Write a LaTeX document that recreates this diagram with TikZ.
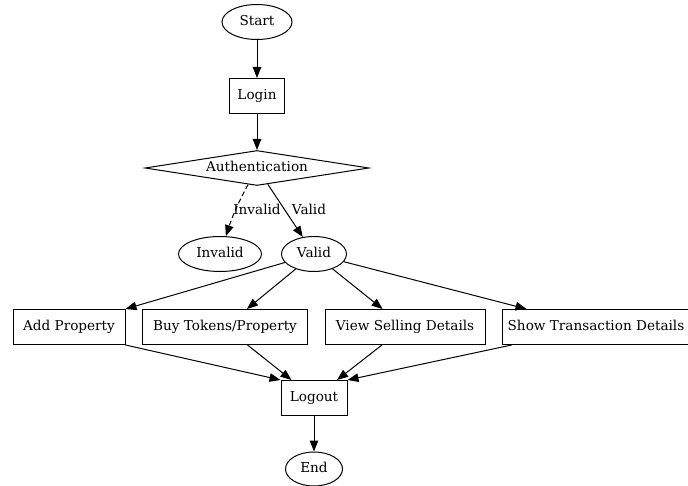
\documentclass[tikz,border=0pt]{standalone}
\usepackage{fontspec}
\setmainfont{DejaVu Serif}
\usetikzlibrary{shapes.geometric,arrows.meta}
\begin{document}
\begin{tikzpicture}[x=1pt,y=-1pt,
  every node/.style={font=\fontsize{13.6}{16}\selectfont, line width=1pt, inner sep=0pt, text height=10pt, text depth=3pt},
  oval/.style={draw, ellipse, minimum height=35pt},
  box/.style={draw, rectangle, minimum height=35pt},
  dia/.style={draw, diamond, shape aspect=6.4, minimum width=224pt, minimum height=35pt},
  arr/.style={line width=1pt, -{Triangle[length=11pt,width=8.5pt]}},
  lbl/.style={draw=none, fill=none}
]
\useasboundingbox (0,0) rectangle (688,486);
\node[oval, minimum width=70pt] (start) at (257,22) {Start};
\node[box, minimum width=55pt] (login) at (257,96) {Login};
\node[dia] (auth) at (257,168) {Authentication};
\node[oval, minimum width=83pt] (invalid) at (220,254) {Invalid};
\node[oval, minimum width=65pt] (valid) at (314,254) {Valid};
\node[box, minimum width=112pt] (add) at (69,327) {Add Property};
\node[box, minimum width=165pt] (buy) at (225,327) {Buy Tokens/Property};
\node[box, minimum width=160pt] (view) at (405,327) {View Selling Details};
\node[box, minimum width=188pt] (show) at (596,327) {Show Transaction Details};
\node[box, minimum width=66pt] (logout) at (314,398) {Logout};
\node[oval, minimum width=57pt, minimum height=34pt] (end) at (314,469) {End};

\draw[arr] (start) -- (login);
\draw[arr] (login) -- (auth);
\draw[arr, dash pattern=on 5pt off 3pt] (auth) to[bend right=5] (invalid);
\draw[arr] (auth) -- (valid);
\node[lbl] (linv) at (257,211) {Invalid};
\node[lbl] (lval) at (309,211) {Valid};
\draw[arr] (valid) -- (add.north east);
\draw[arr] (valid) -- (buy);
\draw[arr] (valid) -- (view);
\draw[arr] (valid) -- (show);
\draw[arr] (add.south east) -- (logout.north west);
\draw[arr] (buy) -- (logout);
\draw[arr] (view) -- (logout);
\draw[arr] (show) -- (logout.north east);
\draw[arr] (logout) -- (end);
\end{tikzpicture}
\end{document}
